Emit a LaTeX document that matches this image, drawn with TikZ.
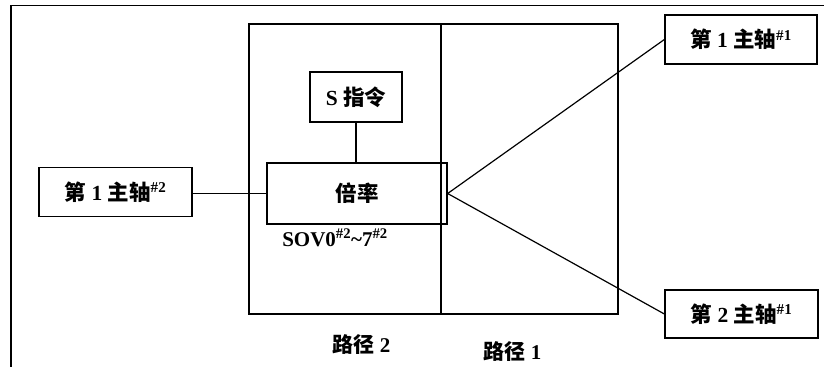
\documentclass[tikz,border=0pt]{standalone}
\usepackage{fontspec}
\setmainfont{Liberation Serif}
\newfontfamily\cjk{Noto Sans CJK SC}
\begin{document}
\begin{tikzpicture}[x=1pt,y=-1pt,
  box/.style={draw, line width=1.3pt, rectangle, inner sep=0pt, font=\fontsize{21.5}{24}\selectfont\bfseries},
  region/.style={draw, line width=1.3pt, rectangle, inner sep=0pt, minimum height=290pt},
  lbl/.style={inner sep=0pt, font=\fontsize{21}{24}\selectfont\bfseries},
  conn/.style={line width=1.2pt}]
\useasboundingbox (0,0) rectangle (824,367);
\draw[line width=1.8pt] (824,5.5) -- (11,5.5) -- (11,367);
\node[region, minimum width=192pt] (p2) at (345,169) {};
\node[region, minimum width=177pt] (p1) at (529.5,169) {};
\node[box, minimum width=92pt, minimum height=50pt] (s) at (356,97) {S {\cjk 指令}};
\node[box, minimum width=180pt, minimum height=61pt] (rate) at (357,193.5) {{\cjk 倍率}};
\node[box, minimum width=153pt, minimum height=49pt] (left) at (115.5,192) {{\cjk 第} 1 {\cjk 主轴}\textsuperscript{\#2}};
\node[box, minimum width=152pt, minimum height=49pt] (r1) at (741,39.5) {{\cjk 第} 1 {\cjk 主轴}\textsuperscript{\#1}};
\node[box, minimum width=153pt, minimum height=48pt] (r2) at (741.5,314) {{\cjk 第} 2 {\cjk 主轴}\textsuperscript{\#1}};
\node[lbl] (sov) at (335,238) {SOV0\textsuperscript{\#2}\textasciitilde7\textsuperscript{\#2}};
\node[lbl] (l2) at (361.5,345) {{\cjk 路径} 2};
\node[lbl] (l1) at (512.5,352) {{\cjk 路径} 1};
\draw[conn] (rate.west -| left.east) -- (rate.west);
\draw[conn] (s.south) -- (s.south |- rate.north);
\draw[conn] (rate.east) -- (r1.west);
\draw[conn] (rate.east) -- (r2.west);
\end{tikzpicture}
\end{document}
